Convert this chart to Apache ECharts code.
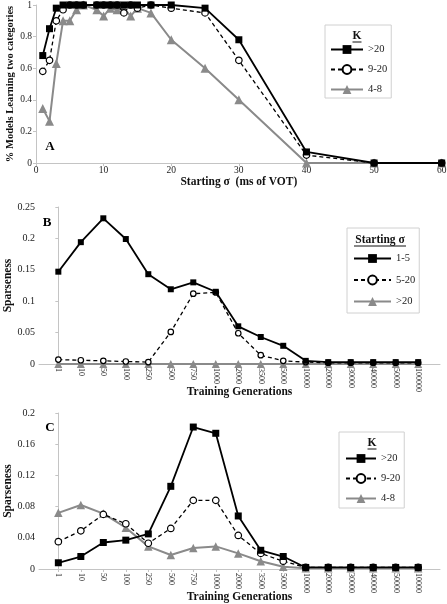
<!DOCTYPE html>
<html>
<head>
<meta charset="utf-8">
<script src="https://cdn.jsdelivr.net/npm/echarts@6/dist/echarts.min.js"></script>
<style>
html,body{margin:0;padding:0;background:#fff;}
.p{position:absolute;left:0;width:447px;}
</style>
</head>
<body>
<div id="a" class="p" style="top:0;height:195px"></div>
<div id="b" class="p" style="top:195px;height:205px"></div>
<div id="c" class="p" style="top:400px;height:204px"></div>
<script>
// ---------- DATA ----------
// Panel A
const sigmaA = [1,2,3,4,5,6,7,9,10,11,12,13,14,15,17,20,25,30,40,50,60];
const kGt20A = [0.68,0.85,0.98,1,1,1,1,1,1,1,1,1,1,1,1,1,0.98,0.78,0.07,0,0];
const k9to20A = [0.58,0.65,0.90,0.97,1,1,1,1,1,1,1,0.95,1,0.98,1,0.98,0.95,0.65,0.05,0,0];
const k4to8A = [0.345,0.265,0.63,0.90,0.90,0.97,1,0.97,0.93,0.98,0.97,0.98,0.93,0.98,0.95,0.78,0.60,0.40,0,0,0];
const yTicksA = [0,0.2,0.4,0.6,0.8,1];
const xTicksA = [0,10,20,30,40,50,60];
// Panel B
const genLabelsB = ['1','10','50','100','250','500','750','1000','2000','3500','5000','10000','20000','30000','40000','50000','100000'];
const sig1to5 = [0.147,0.194,0.232,0.199,0.143,0.119,0.130,0.115,0.060,0.043,0.029,0.005,0.003,0.003,0.003,0.003,0.003];
const sig5to20 = [0.007,0.006,0.005,0.004,0.003,0.051,0.112,0.114,0.049,0.014,0.005,0.003,0.002,0.002,0.002,0.002,0.002];
const sigGt20 = [0,0,0,0,0,0,0,0,0,0,0,0,0,0,0,0,0];
const yTicksB = [0,0.05,0.1,0.15,0.2,0.25];
// Panel C
const genLabelsC = ['1','10','50','100','250','500','750','1000','2000','3500','5000','10000','20000','30000','40000','50000','10000'];
const kGt20C = [0.008,0.016,0.034,0.037,0.045,0.106,0.182,0.174,0.068,0.024,0.016,0.002,0.002,0.002,0.002,0.002,0.002];
const k9to20C = [0.035,0.049,0.070,0.058,0.033,0.052,0.088,0.088,0.043,0.020,0.010,0.002,0.002,0.002,0.002,0.002,0.002];
const k4to8C = [0.072,0.082,0.071,0.053,0.029,0.018,0.027,0.029,0.020,0.010,0.003,0.001,0.001,0.001,0.001,0.001,0.001];
const yTicksC = [0,0.04,0.08,0.12,0.16,0.2];

// ---------- STYLE ----------
const FONT = '"Liberation Serif","DejaVu Serif",serif';
const AXC = '#c4c4c4';
const GREY = '#8a8a8a';

function blackSeries(name, data, size){
  return {name, type:'line', data, symbol:'rect', symbolSize:size, z:5,
    lineStyle:{color:'#000', width:1.8}, itemStyle:{color:'#000'}};
}
function dashSeries(name, data, size){
  return {name, type:'line', data, symbol:'circle', symbolSize:size, z:4,
    lineStyle:{color:'#000', width:1.3, type:[4,3]},
    itemStyle:{color:'#fff', borderColor:'#000', borderWidth:1.2}};
}
function greySeries(name, data, size){
  return {name, type:'line', data, symbol:'triangle', symbolSize:size, z:3,
    lineStyle:{color:GREY, width:2}, itemStyle:{color:GREY}};
}
function yAxisCfg(ticks, name, gap, fs, nfs){
  return {type:'value', min:ticks[0], max:ticks[ticks.length-1], interval:ticks[1]-ticks[0],
    name, nameLocation:'middle', nameGap:gap, nameMoveOverlap:false,
    nameTextStyle:{fontFamily:FONT, fontWeight:'bold', fontSize:nfs, color:'#111'},
    axisLine:{show:true, lineStyle:{color:AXC}},
    axisTick:{show:true, length:3, lineStyle:{color:AXC}},
    splitLine:{show:false},
    axisLabel:{fontFamily:FONT, fontSize:fs, color:'#222', margin:4}};
}
function legendCfg(names, left, top, padding, itemWidth, itemGap){
  return {data:names, orient:'vertical', left, top, padding, itemWidth, itemHeight:11, itemGap,
    borderColor:'#d0d0d0', borderWidth:1, selectedMode:false,
    textStyle:{fontFamily:FONT, fontSize:10.5, color:'#222'}};
}
function titleGraphic(text, cx, cy, ulw){
  return [{type:'text', x:cx, y:cy, style:{text, font:'bold 11.5px '+FONT, fill:'#111', textAlign:'center', textVerticalAlign:'middle'}},
          {type:'line', shape:{x1:cx-ulw/2, y1:cy+6, x2:cx+ulw/2, y2:cy+6}, style:{stroke:'#111', lineWidth:1}}];
}
function panelLetter(t, x, y){
  return {type:'text', x, y, style:{text:t, font:'bold 13px '+FONT, fill:'#000', textAlign:'center', textVerticalAlign:'middle'}};
}

// ---------- PANEL A ----------
const chA = echarts.init(document.getElementById('a'));
chA.setOption({
  animation:false,
  grid:{left:36, top:5, right:5.3, height:158, containLabel:false, outerBoundsMode:'none'},
  xAxis:{type:'value', min:xTicksA[0], max:xTicksA[xTicksA.length-1], interval:xTicksA[1]-xTicksA[0],
    name:'Starting σ  (ms of VOT)', nameLocation:'middle', nameGap:13, nameMoveOverlap:false,
    nameTextStyle:{fontFamily:FONT, fontWeight:'bold', fontSize:11.5, color:'#111'},
    axisLine:{show:true, lineStyle:{color:AXC}}, axisTick:{show:true, length:3, lineStyle:{color:AXC}},
    splitLine:{show:false},
    axisLabel:{fontFamily:FONT, fontSize:9.5, color:'#222', margin:2}},
  yAxis:yAxisCfg(yTicksA, '% Models Learning two categories', 20, 9.5, 10.5),
  legend:legendCfg(['>20','9-20','4-8'], 325, 25, [19,4,3,5], 32, 9),
  graphic:[].concat(titleGraphic('K', 357, 36, 9), [panelLetter('A', 50, 147)]),
  series:[
    greySeries('4-8', sigmaA.map((x,i)=>[x,k4to8A[i]]), 9),
    dashSeries('9-20', sigmaA.map((x,i)=>[x,k9to20A[i]]), 6.5),
    blackSeries('>20', sigmaA.map((x,i)=>[x,kGt20A[i]]), 7)
  ]
});

// ---------- generations panels ----------
function genPanel(el, labels, yTicks, sBlack, sDash, sGrey, names, legPos, legTitle, letter, sizes){
  const idx = labels.map((_,i)=>i);
  const ch = echarts.init(document.getElementById(el));
  ch.setOption({
    animation:false,
    grid:Object.assign({containLabel:false, outerBoundsMode:'none'}, legPos.grid),
    xAxis:{type:'value', min:-0.86, max:16.97,
      name:'Training Generations', nameLocation:'middle', nameGap:legPos.xGap, nameMoveOverlap:false,
      nameTextStyle:{fontFamily:FONT, fontWeight:'bold', fontSize:11.5, color:'#111'},
      axisLine:{show:true, lineStyle:{color:AXC}},
      axisTick:{show:true, customValues:idx, length:3, lineStyle:{color:AXC}},
      splitLine:{show:false},
      axisLabel:{customValues:idx, rotate:-90, fontFamily:FONT, fontSize:8, color:'#222', margin:4,
        formatter:v=>labels[Math.round(v)]}},
    yAxis:yAxisCfg(yTicks, 'Sparseness', 25, 10, 11.5),
    legend:legendCfg([names[0],names[1],names[2]], legPos.left, legPos.top, legPos.padding, legPos.iw, legPos.gap),
    graphic:[].concat(titleGraphic(legTitle, legPos.tx, legPos.ty, legPos.ulw), [panelLetter(letter, legPos.lx, legPos.ly)]),
    series:[
      greySeries(names[2], sGrey.map((v,i)=>[idx[i],v]), sizes[2]),
      dashSeries(names[1], sDash.map((v,i)=>[idx[i],v]), sizes[1]),
      blackSeries(names[0], sBlack.map((v,i)=>[idx[i],v]), sizes[0])
    ]
  });
}

genPanel('b', genLabelsB, yTicksB, sig1to5, sig5to20, sigGt20, ['1-5','5-20','>20'],
  {grid:{left:39, top:12, right:7, height:157}, xGap:22, left:347, top:33, padding:[25,4,6,6], iw:37, gap:10.5,
   tx:380, ty:45, ulw:52, lx:47, ly:28}, 'Starting σ', 'B', [6,5.5,8]);

genPanel('c', genLabelsC, yTicksC, kGt20C, k9to20C, k4to8C, ['>20','9-20','4-8'],
  {grid:{left:39, top:13, right:7, height:156}, xGap:22, left:339, top:32, padding:[21,4,4,6], iw:30, gap:9,
   tx:372, ty:43, ulw:9, lx:50, ly:28}, 'K', 'C', [7,6.5,8.5]);
</script>
</body>
</html>
